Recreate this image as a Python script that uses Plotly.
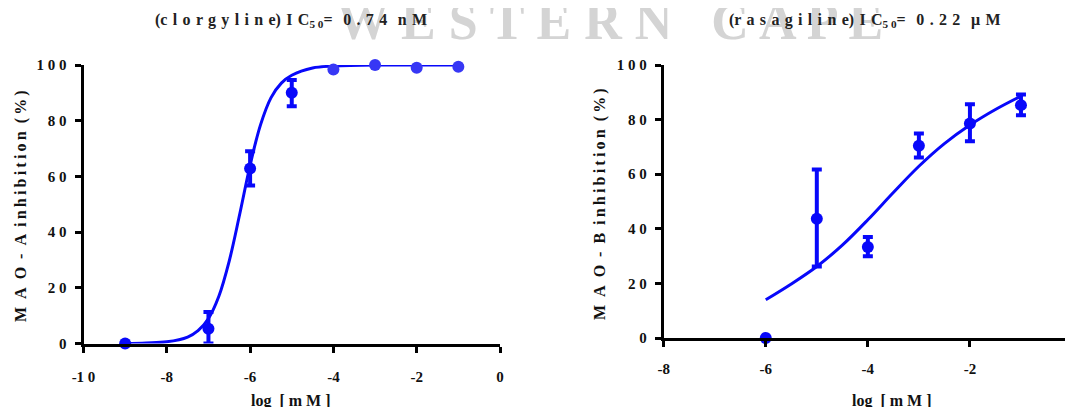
import plotly.graph_objects as go

# ---------------- data ----------------
# MAO-A (clorgyline)
a_x = [-9, -7, -6, -5, -4, -3, -2, -1]
a_y = [0.0, 5.3, 62.8, 90.0, 98.4, 100.0, 99.0, 99.4]
a_err_up = [0, 6.0, 6.2, 4.6, 0, 0, 0, 0]
a_err_down = [0, 5.3, 6.1, 4.8, 0, 0, 0, 0]
# fitted curve
a_curve_x = [-9, -8.5, -8, -7.5, -7.25, -7, -6.75, -6.5, -6.25, -6, -5.75, -5.5, -5.25, -5, -4.5, -4, -3, -2, -1]
a_curve_y = [0.0, 0.2, 0.6, 2.3, 4.6, 9.0, 17.0, 29.7, 46.4, 64.0, 78.5, 88.2, 93.5, 96.3, 98.9, 99.6, 100, 100, 100]

# MAO-B (rasagiline)
b_x = [-6, -5, -4, -3, -2, -1]
b_y = [0.0, 43.7, 33.3, 70.4, 78.6, 85.3]
b_err_up = [0, 18.0, 3.7, 4.5, 7.0, 3.9]
b_err_down = [0, 17.5, 3.4, 4.3, 6.5, 3.7]
b_curve_x = [-6, -5.5, -5, -4.5, -4, -3.5, -3, -2.5, -2, -1.5, -1]
b_curve_y = [14.0, 19.8, 26.2, 34.0, 43.3, 53.3, 62.9, 71.2, 78.0, 83.7, 88.6]

y_ticks = [0, 20, 40, 60, 80, 100]
a_x_ticks = [-10, -8, -6, -4, -2, 0]
b_x_ticks = [-8, -6, -4, -2, 0]

# ---------------- style ----------------
BLUE = "rgb(8,8,250)"
BLUE_LIGHT = "rgb(55,55,245)"
FONT = "Liberation Serif"
W, H = 1073, 407
OFF = 8  # page body margin


def px(x):
    return (x - OFF) / W


def py(y):
    return (H + OFF - y) / H


def spaced(s, sep=" "):
    return sep.join(list(s))


def tick_label(v):
    s = str(v)
    if s.startswith("-"):
        return "-" + spaced(s[1:])
    return spaced(s)


a_colors = [BLUE, BLUE, BLUE, BLUE, BLUE_LIGHT, BLUE_LIGHT, BLUE_LIGHT, BLUE_LIGHT]

fig = go.Figure()

# curves
fig.add_trace(go.Scatter(x=a_curve_x, y=a_curve_y, mode="lines", line=dict(color=BLUE, width=3, shape="spline"),
                         xaxis="x", yaxis="y", cliponaxis=False, showlegend=False))
fig.add_trace(go.Scatter(x=b_curve_x, y=b_curve_y, mode="lines", line=dict(color=BLUE, width=3, shape="spline"),
                         xaxis="x2", yaxis="y2", cliponaxis=False, showlegend=False))

# points
fig.add_trace(go.Scatter(x=a_x, y=a_y, mode="markers",
                         marker=dict(color=a_colors, size=12),
                         error_y=dict(type="data", array=a_err_up, arrayminus=a_err_down, symmetric=False,
                                      color=BLUE, thickness=4, width=5),
                         xaxis="x", yaxis="y", cliponaxis=False, showlegend=False))
fig.add_trace(go.Scatter(x=b_x, y=b_y, mode="markers",
                         marker=dict(color=BLUE, size=12),
                         error_y=dict(type="data", array=b_err_up, arrayminus=b_err_down, symmetric=False,
                                      color=BLUE, thickness=4, width=5),
                         xaxis="x2", yaxis="y2", cliponaxis=False, showlegend=False))

axis_common = dict(showline=True, linecolor="black", linewidth=3, ticks="outside", ticklen=6,
                   tickwidth=3, tickcolor="black", showgrid=False, zeroline=False, automargin=False,
                   tickfont=dict(family=FONT, size=15, color="#111", weight="bold"))

fig.update_layout(
    width=W, height=H,
    margin=dict(l=0, r=0, t=0, b=0),
    paper_bgcolor="white", plot_bgcolor="white",
    xaxis=dict(domain=[px(83.5), px(500)], range=[-10, 0], anchor="y",
               tickvals=a_x_ticks, ticktext=[tick_label(v) for v in a_x_ticks],
               ticklabelstandoff=11, **axis_common),
    yaxis=dict(domain=[py(343.5), py(65)], range=[0, 100], anchor="x",
               tickvals=y_ticks, ticktext=[tick_label(v) for v in y_ticks],
               ticklabelstandoff=5, **axis_common),
    xaxis2=dict(domain=[px(663.7), px(1072)], range=[-8, 0], anchor="y2",
                tickvals=b_x_ticks, ticktext=[tick_label(v) for v in b_x_ticks],
                ticklabelstandoff=9, **axis_common),
    yaxis2=dict(domain=[py(338), py(65)], range=[0, 100], anchor="x2",
                tickvals=y_ticks, ticktext=[tick_label(v) for v in y_ticks],
                ticklabelstandoff=5, **axis_common),
)

ann = []
# watermark
ann.append(dict(text="<b>W E S T E R N   C A P E</b>", x=px(610), y=py(22), xref="paper", yref="paper",
                xanchor="center", yanchor="middle", showarrow=False,
                font=dict(family=FONT, size=52, color="rgb(212,212,212)")))

SP = " \u200a"
title_font = dict(family=FONT, size=16, color="#222")
ann.append(dict(text="<b>(" + spaced("clorgyline", SP) + ")" + SP + spaced("IC", SP) + "<sub>5 0</sub>=" + SP + SP
                + spaced("0.74", SP) + SP + SP + spaced("nM", SP) + "</b>",
                x=px(291), y=py(21), xref="paper", yref="paper", xanchor="center", yanchor="middle",
                showarrow=False, font=title_font))
ann.append(dict(text="<b>(" + spaced("rasagiline", SP) + ")" + SP + spaced("IC", SP) + "<sub>5 0</sub>=" + SP + SP
                + spaced("0.22", SP) + SP + SP + spaced("μM", SP) + "</b>",
                x=px(864), y=py(21), xref="paper", yref="paper", xanchor="center", yanchor="middle",
                showarrow=False, font=title_font))

EN = "\u2002"
TS = "\u2009"
lab_font = dict(family=FONT, size=16, color="#111")
ylab = "<b>" + spaced("MAO-A", EN) + "  " + spaced("inhibition", TS) + "  (" + TS + "%" + TS + ")</b>"
ylab_b = "<b>" + spaced("MAO-B", EN) + "  " + spaced("inhibition", TS) + "  (" + TS + "%" + TS + ")</b>"
ann.append(dict(text=ylab, x=px(21), y=py(206), xref="paper", yref="paper", textangle=-90,
                xanchor="center", yanchor="middle", showarrow=False, font=lab_font))
ann.append(dict(text=ylab_b, x=px(600), y=py(204), xref="paper", yref="paper", textangle=-90,
                xanchor="center", yanchor="middle", showarrow=False, font=lab_font))
xlab = "<b>log  [ m M ]</b>"
ann.append(dict(text=xlab, x=px(291), y=py(401), xref="paper", yref="paper",
                xanchor="center", yanchor="middle", showarrow=False, font=lab_font))
ann.append(dict(text=xlab, x=px(892), y=py(401), xref="paper", yref="paper",
                xanchor="center", yanchor="middle", showarrow=False, font=lab_font))

fig.update_layout(annotations=ann)

fig.write_html("out.html")
